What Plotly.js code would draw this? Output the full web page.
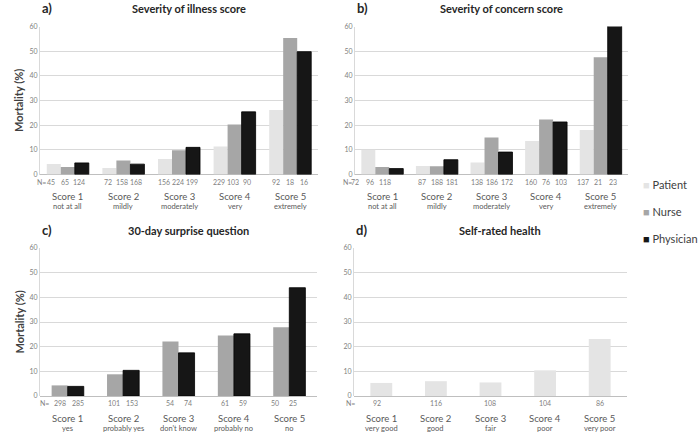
<!DOCTYPE html>
<html>
<head>
<meta charset="utf-8">
<script src="https://cdn.plot.ly/plotly-3.0.1.min.js"></script>
<style>
  html, body { margin: 0; padding: 0; background: #fff; }
  #chart { width: 700px; height: 432px; }
</style>
</head>
<body>
<div id="chart"></div>
<script>
// categories and series
var scores = ['Score 1', 'Score 2', 'Score 3', 'Score 4', 'Score 5'];
var seriesNames = ['Patient', 'Nurse', 'Physician'];

// a) severity of illness score
var illnessLabels = ['not at all', 'mildly', 'moderately', 'very', 'extremely'];
var illnessPatient = [4.3, 2.6, 6.3, 11.4, 26.1];
var illnessNurse = [3.0, 5.7, 9.8, 20.3, 55.3];
var illnessPhysician = [4.7, 4.2, 11.0, 25.4, 49.8];
var illnessNPatient = [45, 72, 156, 229, 92];
var illnessNNurse = [65, 158, 224, 103, 18];
var illnessNPhysician = [124, 168, 199, 90, 16];

// b) severity of concern score
var concernLabels = ['not at all', 'mildly', 'moderately', 'very', 'extremely'];
var concernPatient = [10.0, 3.4, 4.9, 13.6, 18.0];
var concernNurse = [3.0, 3.3, 15.0, 22.3, 47.5];
var concernPhysician = [2.4, 6.0, 9.1, 21.3, 60.8];
var concernNPatient = [72, 87, 138, 160, 137];
var concernNNurse = [96, 188, 186, 76, 21];
var concernNPhysician = [118, 181, 172, 103, 23];

// c) 30-day surprise question
var surpriseLabels = ['yes', 'probably yes', "don't know", 'probably no', 'no'];
var surpriseNurse = [4.3, 8.8, 22.1, 24.5, 27.9];
var surprisePhysician = [3.9, 10.4, 17.5, 25.2, 43.9];
var surpriseNNurse = [298, 101, 54, 61, 50];
var surpriseNPhysician = [285, 153, 74, 59, 25];

// d) self-rated health
var healthLabels = ['very good', 'good', 'fair', 'poor', 'very poor'];
var healthPatient = [5.3, 6.0, 5.5, 10.4, 23.1];
var healthNPatient = [92, 116, 108, 104, 86];

var colors = {Patient: '#e4e4e4', Nurse: '#a6a6a6', Physician: '#161616'};
var font = 'Lato, "Open Sans", sans-serif';
var idx = scores.map(function (s, i) { return i; });

// barW in axis units; nGap / nShift / eqShift are pixel nudges for the N= row
var panels = [
  {letter: 'a)', title: 'Severity of illness score', xa: 'x', ya: 'y', barW: 0.252, ytitle: true,
   nGap: 14, nShift: [-3, -1.5, -1, -2, 0], eqShift: -4,
   labels: illnessLabels,
   series: [['Patient', illnessPatient, illnessNPatient], ['Nurse', illnessNurse, illnessNNurse], ['Physician', illnessPhysician, illnessNPhysician]]},
  {letter: 'b)', title: 'Severity of concern score', xa: 'x2', ya: 'y2', barW: 0.256, ytitle: false,
   nGap: 15, nShift: [-12, 0, 0, 0, -3], eqShift: -13,
   labels: concernLabels,
   series: [['Patient', concernPatient, concernNPatient], ['Nurse', concernNurse, concernNNurse], ['Physician', concernPhysician, concernNPhysician]]},
  {letter: 'c)', title: '30-day surprise question', xa: 'x3', ya: 'y3', barW: 0.29, ytitle: true,
   nGap: 18, nShift: [1, 0, 0, 0, -5], eqShift: -1.5,
   labels: surpriseLabels,
   series: [['Nurse', surpriseNurse, surpriseNNurse], ['Physician', surprisePhysician, surpriseNPhysician]]},
  {letter: 'd)', title: 'Self-rated health', xa: 'x4', ya: 'y4', barW: 0.40, ytitle: false,
   nGap: 0, nShift: [-4, 0, 0, 0, 0], eqShift: -8.5,
   labels: healthLabels,
   series: [['Patient', healthPatient, healthNPatient]]}
];

var traces = [];
var annotations = [];

panels.forEach(function (p) {
  var k = p.series.length;
  var groupW = k * p.barW;
  var xdom = p.xa + ' domain';
  var ydom = p.ya + ' domain';
  p.series.forEach(function (s, j) {
    var off = -groupW / 2 + j * p.barW;
    traces.push({
      type: 'bar',
      name: s[0],
      x: idx,
      y: s[1],
      width: p.barW,
      offset: off,
      xaxis: p.xa,
      yaxis: p.ya,
      showlegend: false,
      hoverinfo: 'skip',
      marker: {color: colors[s[0]], line: {color: s[0] === 'Physician' ? '#000' : 'rgba(0,0,0,0)', width: s[0] === 'Physician' ? 0.8 : 0}}
    });
    // N per bar
    s[2].forEach(function (n, i) {
      annotations.push({
        xref: p.xa, yref: p.ya, x: i, y: 0, yshift: -7,
        xshift: (j - (k - 1) / 2) * p.nGap + p.nShift[i],
        text: String(n), showarrow: false, yanchor: 'middle', borderpad: 0,
        font: {family: font, size: 7, color: '#7f7f7f'}
      });
    });
  });
  annotations.push({
    xref: xdom, yref: p.ya, x: 0, y: 0, yshift: -7, xshift: p.eqShift,
    text: 'N=', showarrow: false, yanchor: 'middle', borderpad: 0,
    font: {family: font, size: 7, color: '#7f7f7f'}
  });
  scores.forEach(function (sc, i) {
    annotations.push({
      xref: p.xa, yref: p.ya, x: i, y: 0, yshift: -22,
      text: sc, showarrow: false, yanchor: 'middle',
      font: {family: font, size: 9.5, color: '#595959'}
    });
    annotations.push({
      xref: p.xa, yref: p.ya, x: i, y: 0, yshift: -32,
      text: p.labels[i], showarrow: false, yanchor: 'middle',
      font: {family: font, size: 7.5, color: '#595959'}
    });
  });
  annotations.push({
    xref: xdom, yref: ydom, x: 0, y: 1, yshift: 18, xanchor: 'left', yanchor: 'middle',
    text: '<b>' + p.letter + '</b>', showarrow: false,
    font: {family: font, size: 13, color: '#262626'}
  });
  annotations.push({
    xref: xdom, yref: ydom, x: 0.5, y: 1, yshift: 18, xshift: 10, yanchor: 'middle',
    text: '<b>' + p.title + '</b>', showarrow: false,
    font: {family: font, size: 11, color: '#262626'}
  });
  if (p.ytitle) {
    annotations.push({
      xref: 'paper', yref: ydom, x: 10 / 700, y: 0.5, textangle: -90,
      text: '<b>Mortality (%)</b>', showarrow: false,
      font: {family: font, size: 11, color: '#404040'}
    });
  }
});

// legend built from series names
seriesNames.forEach(function (name, i) {
  annotations.push({
    xref: 'paper', yref: 'paper', x: 641 / 700, y: 1 - (185 + i * 27) / 432,
    xanchor: 'left', yanchor: 'middle', showarrow: false,
    text: '<span style="color:' + colors[name] + '">■</span> ' + name,
    font: {family: font, size: 11, color: '#404040'}
  });
});

function xaxis(d) {
  return {domain: d, range: [-0.5, 4.5], showgrid: false, zeroline: false, showticklabels: false, ticks: '', fixedrange: true};
}
function yaxis(d, anchor) {
  return {domain: d, anchor: anchor, range: [0, 60], dtick: 10, showgrid: true, gridcolor: '#d9d9d9', gridwidth: 1,
    zeroline: true, zerolinecolor: '#bfbfbf', zerolinewidth: 1, showline: true, linecolor: '#d9d9d9', linewidth: 1,
    tickfont: {family: font, size: 7, color: '#7f7f7f'}, ticks: '', fixedrange: true};
}

var topY = [1 - 174.5 / 432, 1 - 26.5 / 432];
var botY = [1 - 396 / 432, 1 - 248 / 432];

var layout = {
  width: 700, height: 432,
  margin: {l: 0, r: 0, t: 0, b: 0},
  paper_bgcolor: '#fff', plot_bgcolor: '#fff',
  barmode: 'overlay',
  showlegend: false,
  font: {family: font},
  xaxis: Object.assign(xaxis([40 / 700, 318 / 700]), {anchor: 'y'}),
  yaxis: yaxis(topY, 'x'),
  xaxis2: Object.assign(xaxis([355 / 700, 628 / 700]), {anchor: 'y2'}),
  yaxis2: yaxis(topY, 'x2'),
  xaxis3: Object.assign(xaxis([40 / 700, 317 / 700]), {anchor: 'y3'}),
  yaxis3: yaxis(botY, 'x3'),
  xaxis4: Object.assign(xaxis([354 / 700, 627 / 700]), {anchor: 'y4'}),
  yaxis4: yaxis(botY, 'x4'),
  annotations: annotations
};

Plotly.newPlot('chart', traces, layout, {displayModeBar: false, staticPlot: true});
</script>
</body>
</html>
